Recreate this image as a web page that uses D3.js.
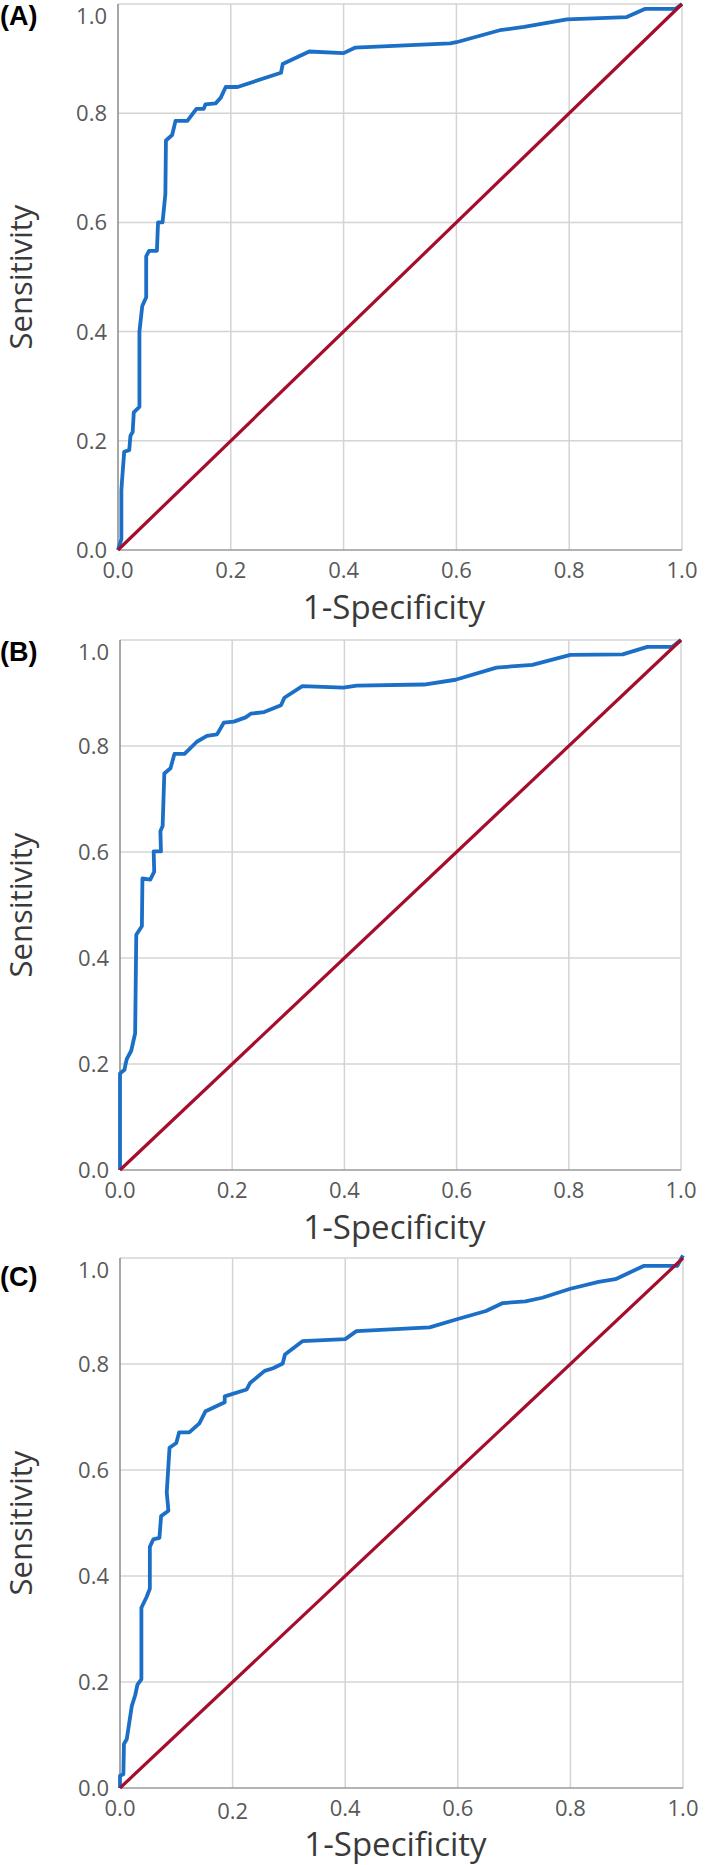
<!DOCTYPE html>
<html>
<head>
<meta charset="utf-8">
<script src="https://cdn.jsdelivr.net/npm/d3@7"></script>
<style>
  body { margin: 0; background: #fff; }
  text { font-family: "Open Sans", "Noto Sans", sans-serif; }
</style>
</head>
<body>
<div id="chart"></div>
<script>
// ROC curves: [1-specificity, sensitivity]
const rocA = [[0,0],[0.006,0.02],[0.006,0.109],[0.007,0.125],[0.011,0.18],[0.02,0.183],[0.022,0.209],
  [0.026,0.216],[0.028,0.252],[0.038,0.262],[0.038,0.40],[0.043,0.447],[0.05,0.463],[0.05,0.538],
  [0.055,0.548],[0.069,0.548],[0.071,0.60],[0.079,0.60],[0.084,0.652],[0.085,0.75],[0.096,0.76],
  [0.102,0.786],[0.123,0.786],[0.139,0.808],[0.152,0.808],[0.155,0.816],[0.173,0.818],[0.182,0.828],
  [0.191,0.848],[0.212,0.848],[0.289,0.874],[0.292,0.89],[0.325,0.906],[0.339,0.913],[0.4,0.91],
  [0.42,0.92],[0.589,0.928],[0.6,0.93],[0.677,0.952],[0.72,0.958],[0.796,0.972],[0.902,0.976],
  [0.934,0.991],[0.988,0.991],[1,1]]

const rocB = [[0,0],[0,0.182],[0.008,0.189],[0.01,0.2],[0.012,0.209],[0.02,0.225],[0.027,0.258],
  [0.029,0.444],[0.039,0.46],[0.04,0.55],[0.054,0.548],[0.061,0.563],[0.06,0.601],[0.073,0.601],
  [0.072,0.639],[0.076,0.649],[0.079,0.748],[0.09,0.758],[0.097,0.785],[0.115,0.785],[0.137,0.808],
  [0.155,0.819],[0.173,0.822],[0.185,0.844],[0.203,0.846],[0.224,0.854],[0.233,0.861],[0.257,0.864],
  [0.287,0.877],[0.293,0.891],[0.325,0.913],[0.398,0.91],[0.422,0.914],[0.542,0.916],[0.598,0.925],
  [0.671,0.948],[0.735,0.953],[0.803,0.972],[0.896,0.973],[0.94,0.987],[0.984,0.987],[1,1]]

const rocC = [[0,0],[0,0.023],[0.006,0.026],[0.007,0.083],[0.012,0.092],[0.021,0.155],[0.027,0.175],
  [0.031,0.195],[0.038,0.205],[0.038,0.34],[0.047,0.36],[0.053,0.376],[0.053,0.455],[0.059,0.469],
  [0.07,0.472],[0.073,0.513],[0.086,0.523],[0.083,0.558],[0.088,0.642],[0.1,0.651],[0.105,0.671],
  [0.123,0.671],[0.141,0.688],[0.152,0.711],[0.186,0.728],[0.186,0.739],[0.225,0.752],[0.231,0.764],
  [0.257,0.787],[0.272,0.792],[0.289,0.801],[0.293,0.818],[0.324,0.843],[0.4,0.847],[0.42,0.862],
  [0.55,0.869],[0.6,0.885],[0.65,0.9],[0.68,0.915],[0.72,0.918],[0.75,0.925],[0.8,0.942],
  [0.85,0.955],[0.88,0.96],[0.93,0.985],[0.99,0.985],[1,1.005]]

const reference = [[0,0],[1,1]]
const ticks = [0, 0.2, 0.4, 0.6, 0.8, 1.0]
const panelLabels = ["(A)", "(B)", "(C)"]
const xTitle = "1-Specificity"
const yTitle = "Sensitivity"

// layout of each panel (pixels)
const panels = [
  {label: panelLabels[0], data: rocA, left: 118, right: 682, top: 4, bottom: 550, labelY: 25, titleDy: 69, xtickDy: {}},
  {label: panelLabels[1], data: rocB, left: 120, right: 681, top: 640, bottom: 1170, labelY: 661, titleDy: 69, xtickDy: {}},
  {label: panelLabels[2], data: rocC, left: 120, right: 683, top: 1258, bottom: 1788, labelY: 1286, titleDy: 68, xtickDy: {0.2: 3}}
]

const svg = d3.select("#chart").append("svg")
  .attr("width", 709)
  .attr("height", 1865)

svg.append("rect").attr("width", 709).attr("height", 1865).attr("fill", "#fff")

panels.forEach(p => {
  let x = d3.scaleLinear().domain([0, 1]).range([p.left, p.right])
  let y = d3.scaleLinear().domain([0, 1]).range([p.bottom, p.top])
  let g = svg.append("g")

  // grid
  g.append("g")
    .selectAll("line")
    .data(ticks.slice(1))
    .join("line")
    .attr("x1", d => x(d)).attr("x2", d => x(d))
    .attr("y1", y(0)).attr("y2", y(1))
    .attr("stroke", "#d4d4d4").attr("stroke-width", 1.5)
  g.append("g")
    .selectAll("line")
    .data(ticks.slice(1))
    .join("line")
    .attr("x1", x(0)).attr("x2", x(1))
    .attr("y1", d => y(d)).attr("y2", d => y(d))
    .attr("stroke", "#d4d4d4").attr("stroke-width", 1.5)

  // axes lines
  g.append("line")
    .attr("x1", x(0)).attr("x2", x(0)).attr("y1", y(0)).attr("y2", y(1))
    .attr("stroke", "#8a8a8a").attr("stroke-width", 1.5)
  g.append("line")
    .attr("x1", x(0)).attr("x2", x(1)).attr("y1", y(0)).attr("y2", y(0))
    .attr("stroke", "#9a9a9a").attr("stroke-width", 1.5)

  // tick labels
  g.append("g")
    .selectAll("text")
    .data(ticks)
    .join("text")
    .attr("x", x(0) - 11)
    .attr("y", d => Math.max(y(d), p.top + 12))
    .attr("dy", "0.36em")
    .attr("text-anchor", "end")
    .attr("fill", "#595959")
    .style("font-size", "22px")
    .text(d => d.toFixed(1))
  g.append("g")
    .selectAll("text")
    .data(ticks)
    .join("text")
    .attr("x", d => x(d))
    .attr("y", d => y(0) + 28 + (p.xtickDy[d] || 0))
    .attr("text-anchor", "middle")
    .attr("fill", "#595959")
    .style("font-size", "22px")
    .text(d => d.toFixed(1))

  // axis titles
  g.append("text")
    .attr("x", (p.left + p.right) / 2 - 6)
    .attr("y", y(0) + p.titleDy)
    .attr("text-anchor", "middle")
    .attr("fill", "#3a3a3a")
    .style("font-size", "33px")
    .text(xTitle)
  g.append("text")
    .attr("transform", `translate(${32},${(p.top + p.bottom) / 2}) rotate(-90)`)
    .attr("text-anchor", "middle")
    .attr("fill", "#3a3a3a")
    .style("font-size", "31px")
    .text(yTitle)

  // panel label
  g.append("text")
    .attr("x", 0)
    .attr("y", p.labelY)
    .attr("fill", "#000")
    .style("font-family", "'Liberation Sans', Arial, sans-serif")
    .style("font-weight", "bold")
    .style("font-size", "27px")
    .text(p.label)

  let line = d3.line()
    .x(d => x(d[0]))
    .y(d => y(d[1]))

  g.append("path")
    .datum(p.data)
    .attr("fill", "none")
    .attr("stroke", "#1b6fc6")
    .attr("stroke-width", 3.8)
    .attr("stroke-linejoin", "round")
    .attr("d", line)

  g.append("path")
    .datum(reference)
    .attr("fill", "none")
    .attr("stroke", "#a50d2c")
    .attr("stroke-width", 3.2)
    .attr("d", line)
})
</script>
</body>
</html>
